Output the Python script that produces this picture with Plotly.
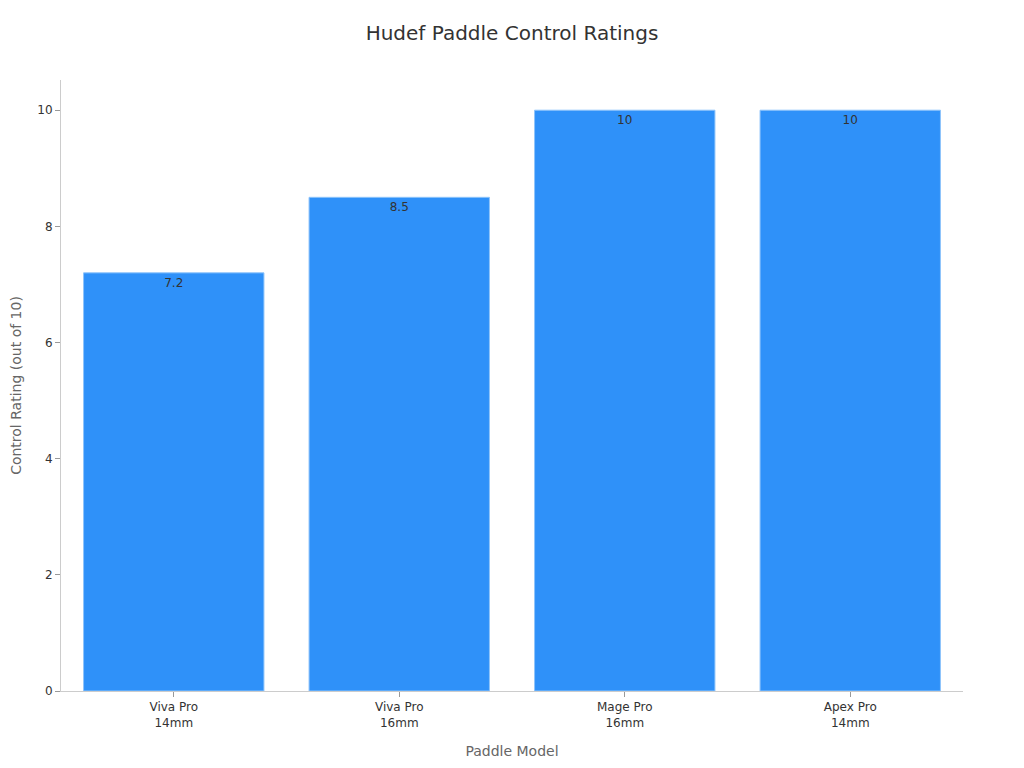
import plotly.graph_objects as go

# paddle models and their control ratings
models = ["Viva Pro<br>14mm", "Viva Pro<br>16mm", "Mage Pro<br>16mm", "Apex Pro<br>14mm"]
ratings = [7.2, 8.5, 10, 10]
labels = ["7.2", "8.5", "10", "10"]

fig = go.Figure()
fig.add_trace(go.Bar(
    x=models,
    y=ratings,
    text=labels,
    textposition="inside",
    insidetextanchor="end",
    textfont=dict(size=12, color="#333333"),
    marker=dict(color="#2f91f9", line=dict(color="#8ec4fb", width=1)),
))

fig.update_layout(
    width=1024,
    height=768,
    font=dict(family="DejaVu Sans", size=12, color="#333333"),
    title=dict(text="Hudef Paddle Control Ratings", xref="paper", x=0.5, xanchor="center",
               y=0.9674, yanchor="middle", font=dict(size=20, color="#333333")),
    paper_bgcolor="white",
    plot_bgcolor="white",
    margin=dict(l=53, r=69, t=72, b=85),
    bargap=0.2,
    showlegend=False,
    xaxis=dict(
        title=dict(text="Paddle Model", font=dict(size=14, color="#666666"), standoff=17),
        showline=True, linecolor="#cccccc", linewidth=1,
        ticks="outside", ticklen=5, tickcolor="#999999",
        showgrid=False,
    ),
    yaxis=dict(
        title=dict(text="Control Rating (out of 10)", font=dict(size=14, color="#666666"),
                   standoff=20),
        range=[0, 10.52],
        automargin=False,
        showline=True, linecolor="#cccccc", linewidth=1,
        ticks="outside", ticklen=5, tickcolor="#999999",
        showgrid=False, zeroline=False,
        dtick=2,
    ),
)

fig.write_html("out.html")
